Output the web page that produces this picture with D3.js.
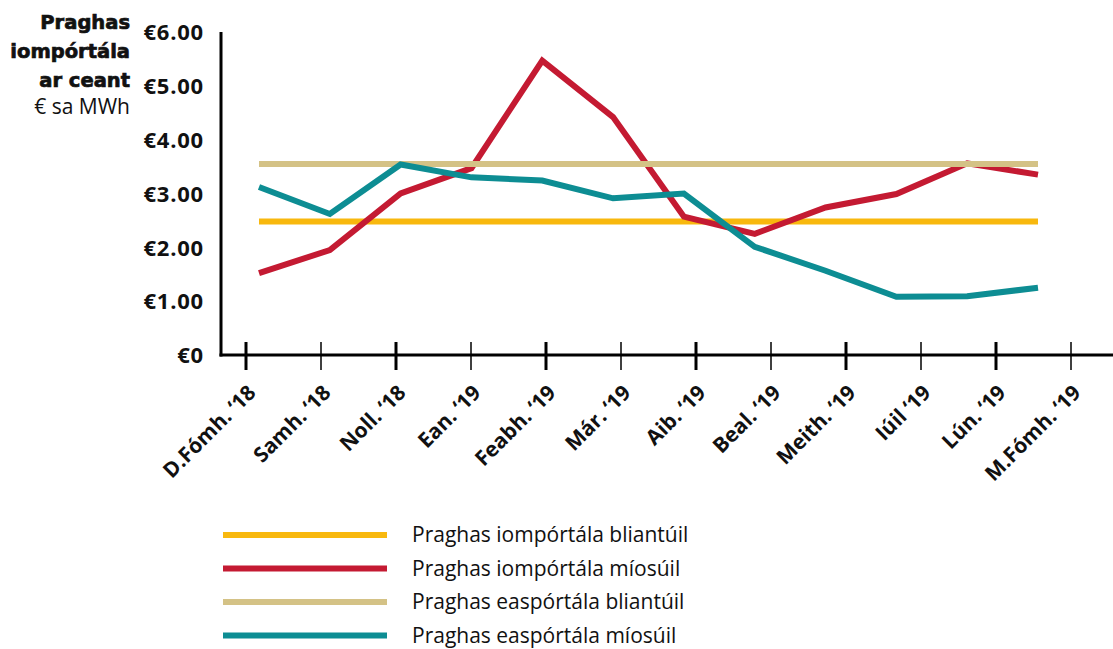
<!DOCTYPE html>
<html>
<head>
<meta charset="utf-8">
<script src="https://cdn.jsdelivr.net/npm/d3@7"></script>
<style>
  body { margin: 0; background: #fff; }
  svg { display: block; }
  .tick-label { font-family: "Open Sans", sans-serif; font-weight: 700; fill: #111; }
  .title { font-family: "DejaVu Sans", sans-serif; font-weight: 700; fill: #111; stroke: #111; stroke-width: 0.7px; }
  .legend-label { font-family: "Open Sans", sans-serif; fill: #111; }
</style>
</head>
<body>
<div id="chart"></div>
<script>
// month labels along the bottom
const months = ["D.Fómh. ‘18", "Samh. ‘18", "Noll. ‘18", "Ean. ‘19", "Feabh. ‘19", "Már. ‘19",
  "Aib. ‘19", "Beal. ‘19", "Meith. ‘19", "Iúil ‘19", "Lún. ‘19", "M.Fómh. ‘19"];

// series values (€ cents per kWh)
const importAvg = [2.48, 2.48, 2.48, 2.48, 2.48, 2.48, 2.48, 2.48, 2.48, 2.48, 2.48, 2.48];
const importMonthly = [1.52, 1.95, 3.0, 3.47, 5.47, 4.42, 2.57, 2.25, 2.74, 2.99, 3.56, 3.35];
const exportAvg = [3.55, 3.55, 3.55, 3.55, 3.55, 3.55, 3.55, 3.55, 3.55, 3.55, 3.55, 3.55];
const exportMonthly = [3.12, 2.62, 3.54, 3.30, 3.24, 2.91, 3.0, 2.01, 1.565, 1.08, 1.09, 1.25];

const yTicks = [0, 1, 2, 3, 4, 5, 6];
const titleLines = ["Praghas", "iompórtála", "ar ceant"];
const unitLabel = "€ sa MWh";

const seriesNames = ["Praghas iompórtála bliantúil", "Praghas iompórtála míosúil",
  "Praghas easpórtála bliantúil", "Praghas easpórtála míosúil"];
const seriesColors = ["#F8B80E", "#C41A32", "#D4C286", "#0D8D93"];
const seriesData = [importAvg, importMonthly, exportAvg, exportMonthly];

const width = 1113, height = 649;

const svg = d3.select("#chart").append("svg")
  .attr("width", width)
  .attr("height", height);

const yScale = d3.scaleLinear().domain([0, 6]).range([355, 32]);
// tick positions on the axis
const xTick = d3.scalePoint().domain(months).range([246, 1071]);
// data points sit a bit inside the ticks in the original
const xData = d3.scalePoint().domain(months).range([259, 1038]);

// y axis labels (no tick marks)
const yAxis = d3.axisLeft(yScale)
  .tickValues(yTicks)
  .tickSize(0)
  .tickPadding(0)
  .tickFormat(d => d === 0 ? "€0" : "€" + d3.format(".2f")(d));

const gy = svg.append("g")
  .attr("transform", "translate(204,0)")
  .call(yAxis);
gy.select(".domain").remove();
gy.selectAll("text")
  .attr("class", "tick-label")
  .attr("x", 0)
  .attr("dy", "0.35em")
  .style("font-size", "22px")
  .style("letter-spacing", "0.8px");

// y axis line
svg.append("line")
  .attr("x1", 221).attr("x2", 221)
  .attr("y1", yScale(6)).attr("y2", yScale(0) + 1.5)
  .attr("stroke", "#000").attr("stroke-width", 3);

// x axis
const xAxis = d3.axisBottom(xTick).tickSize(0).tickFormat("");
const gx = svg.append("g")
  .attr("transform", `translate(0,${yScale(0)})`)
  .call(xAxis);
gx.select(".domain").remove();

svg.append("line")
  .attr("x1", 219.5).attr("x2", width)
  .attr("y1", yScale(0)).attr("y2", yScale(0))
  .attr("stroke", "#000").attr("stroke-width", 3);

svg.selectAll(".xtick")
  .data(months)
  .join("line")
  .attr("class", "xtick")
  .attr("x1", d => xTick(d)).attr("x2", d => xTick(d))
  .attr("y1", yScale(0) - 13).attr("y2", yScale(0) + 15)
  .attr("stroke", "#000")
  .attr("stroke-width", (d, i) => i % 2 === 0 ? 3 : 1.5);

svg.selectAll(".xlabel")
  .data(months)
  .join("text")
  .attr("class", "tick-label xlabel")
  .attr("text-anchor", "end")
  .attr("transform", d => `translate(${xTick(d) + 11},394) rotate(-45)`)
  .style("font-size", "21px")
  .text(d => d);

// lines
const line = d3.line()
  .x((d, i) => xData(months[i]))
  .y(d => yScale(d));

svg.selectAll(".series")
  .data(seriesData)
  .join("path")
  .attr("class", "series")
  .attr("d", d => line(d))
  .attr("fill", "none")
  .attr("stroke", (d, i) => seriesColors[i])
  .attr("stroke-width", 6)
  .attr("stroke-linejoin", "miter");

// title
svg.selectAll(".title")
  .data(titleLines)
  .join("text")
  .attr("class", "title")
  .attr("x", 130)
  .attr("y", (d, i) => 29 + i * 29)
  .attr("text-anchor", "end")
  .style("font-size", "19.5px")
  .text(d => d);

svg.append("text")
  .attr("class", "legend-label")
  .attr("x", 130)
  .attr("y", 114)
  .attr("text-anchor", "end")
  .style("font-size", "21px")
  .text(unitLabel);

// legend
const legend = svg.selectAll(".legend")
  .data(seriesNames)
  .join("g")
  .attr("class", "legend")
  .attr("transform", (d, i) => `translate(0,${535 + i * 33.5})`);

legend.append("line")
  .attr("x1", 223).attr("x2", 387)
  .attr("stroke", (d, i) => seriesColors[i])
  .attr("stroke-width", 6);

legend.append("text")
  .attr("class", "legend-label")
  .attr("x", 412)
  .attr("dy", "0.35em")
  .style("font-size", "21px")
  .text(d => d);
</script>
</body>
</html>
